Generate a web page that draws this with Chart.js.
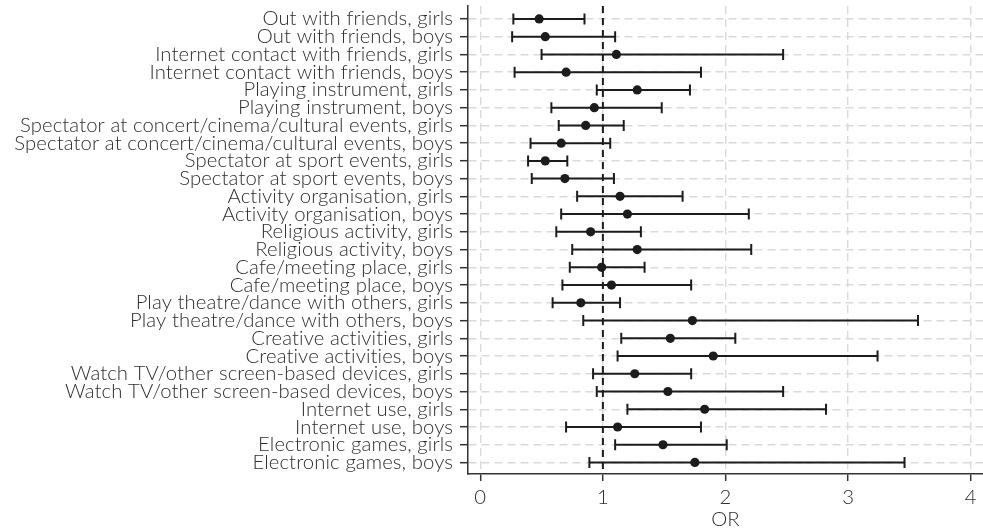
<!DOCTYPE html>
<html>
<head>
<meta charset="utf-8">
<script src="https://cdn.jsdelivr.net/npm/chart.js@4"></script>
<style>
  html, body { margin: 0; padding: 0; background: #ffffff; }
  #wrap { width: 983px; height: 532px; position: relative; }
</style>
</head>
<body>
<div id="wrap"><canvas id="c" width="983" height="532"></canvas></div>
<script>
const categories = [
  "Out with friends, girls",
  "Out with friends, boys",
  "Internet contact with friends, girls",
  "Internet contact with friends, boys",
  "Playing instrument, girls",
  "Playing instrument, boys",
  "Spectator at concert/cinema/cultural events, girls",
  "Spectator at concert/cinema/cultural events, boys",
  "Spectator at sport events, girls",
  "Spectator at sport events, boys",
  "Activity organisation, girls",
  "Activity organisation, boys",
  "Religious activity, girls",
  "Religious activity, boys",
  "Cafe/meeting place, girls",
  "Cafe/meeting place, boys",
  "Play theatre/dance with others, girls",
  "Play theatre/dance with others, boys",
  "Creative activities, girls",
  "Creative activities, boys",
  "Watch TV/other screen-based devices, girls",
  "Watch TV/other screen-based devices, boys",
  "Internet use, girls",
  "Internet use, boys",
  "Electronic games, girls",
  "Electronic games, boys"
];
const oddsRatio = [0.48, 0.53, 1.11, 0.70, 1.28, 0.93, 0.86, 0.66, 0.53, 0.69,
                   1.14, 1.20, 0.90, 1.28, 0.99, 1.07, 0.82, 1.73, 1.55, 1.90,
                   1.26, 1.53, 1.83, 1.12, 1.49, 1.75];
const lowerCI   = [0.27, 0.26, 0.50, 0.28, 0.95, 0.58, 0.64, 0.41, 0.39, 0.42,
                   0.79, 0.66, 0.62, 0.75, 0.73, 0.67, 0.59, 0.84, 1.15, 1.12,
                   0.92, 0.95, 1.20, 0.70, 1.10, 0.89];
const upperCI   = [0.85, 1.10, 2.47, 1.80, 1.71, 1.48, 1.17, 1.06, 0.71, 1.09,
                   1.65, 2.19, 1.31, 2.21, 1.34, 1.72, 1.14, 3.57, 2.08, 3.24,
                   1.72, 2.47, 2.82, 1.80, 2.01, 3.46];
const xTicks = [0, 1, 2, 3, 4];
const referenceOR = 1;

const INK = '#1c1c1c';
const TEXT = '#2e2e2e';
const GRID = '#dadada';
const AXIS = '#333333';
const FONT = { family: 'Lato', size: 20.3, weight: '300' };

const points = oddsRatio.map((v, i) => ({ x: v, y: i + 1 }));

const textStyle = {
  id: 'textStyle',
  beforeDraw(chart) {
    // small tracking so no ligatures are formed (matches the plain reference lettering)
    chart.ctx.letterSpacing = '0.1px';
  }
};

const errorBars = {
  id: 'errorBars',
  beforeDatasetsDraw(chart) {
    const { ctx, chartArea, scales: { x, y } } = chart;
    ctx.save();
    const rx = x.getPixelForValue(referenceOR);
    ctx.strokeStyle = INK;
    ctx.lineWidth = 2;
    ctx.setLineDash([7, 5]);
    ctx.beginPath();
    ctx.moveTo(rx, chartArea.top);
    ctx.lineTo(rx, chartArea.bottom);
    ctx.stroke();
    ctx.setLineDash([]);
    ctx.lineWidth = 2;
    ctx.strokeStyle = INK;
    const cap = 5.5;
    for (let i = 0; i < oddsRatio.length; i++) {
      const py = y.getPixelForValue(i + 1);
      const x0 = x.getPixelForValue(lowerCI[i]);
      const x1 = x.getPixelForValue(upperCI[i]);
      ctx.beginPath();
      ctx.moveTo(x0, py); ctx.lineTo(x1, py);
      ctx.moveTo(x0, py - cap); ctx.lineTo(x0, py + cap);
      ctx.moveTo(x1, py - cap); ctx.lineTo(x1, py + cap);
      ctx.stroke();
    }
    ctx.restore();
  }
};

new Chart(document.getElementById('c'), {
  type: 'scatter',
  data: {
    datasets: [{
      data: points,
      pointRadius: 4.6,
      pointHoverRadius: 4.6,
      backgroundColor: INK,
      borderWidth: 0
    }]
  },
  options: {
    responsive: false,
    animation: false,
    devicePixelRatio: 1,
    layout: { autoPadding: false, padding: { top: 6, right: 0, bottom: 0, left: 0 } },
    plugins: { legend: { display: false }, tooltip: { enabled: false } },
    scales: {
      x: {
        type: 'linear',
        min: -0.1,
        max: 4.1,
        afterBuildTicks(scale) { scale.ticks = xTicks.map(v => ({ value: v })); },
        afterFit(scale) { scale.height = 58; scale.paddingLeft = 0; scale.paddingRight = 0; },
        ticks: {
          includeBounds: false,
          color: TEXT,
          font: FONT,
          padding: 4,
          maxRotation: 0,
          callback: (v) => String(v)
        },
        grid: {
          color: GRID,
          lineWidth: 1.4,
          drawTicks: true,
          tickLength: 7,
          tickColor: AXIS,
          tickWidth: 1.5
        },
        border: { display: true, color: AXIS, width: 1.5, dash: [8, 5] },
        title: { display: true, text: 'OR', color: TEXT, font: FONT, padding: { top: 0, bottom: 0 } }
      },
      y: {
        type: 'linear',
        reverse: true,
        min: 0.27,
        max: 26.65,
        afterBuildTicks(scale) { scale.ticks = categories.map((c, i) => ({ value: i + 1 })); },
        afterFit(scale) { scale.width = 468; scale.paddingTop = 0; scale.paddingBottom = 0; },
        ticks: {
          autoSkip: false,
          includeBounds: false,
          color: TEXT,
          font: FONT,
          padding: 7,
          callback: (v) => categories[Math.round(v) - 1]
        },
        grid: {
          color: GRID,
          lineWidth: 1.4,
          drawTicks: true,
          tickLength: 8,
          tickColor: AXIS,
          tickWidth: 1.5
        },
        border: { display: true, color: AXIS, width: 1.5, dash: [8, 5] }
      }
    }
  },
  plugins: [textStyle, errorBars]
});
</script>
</body>
</html>
